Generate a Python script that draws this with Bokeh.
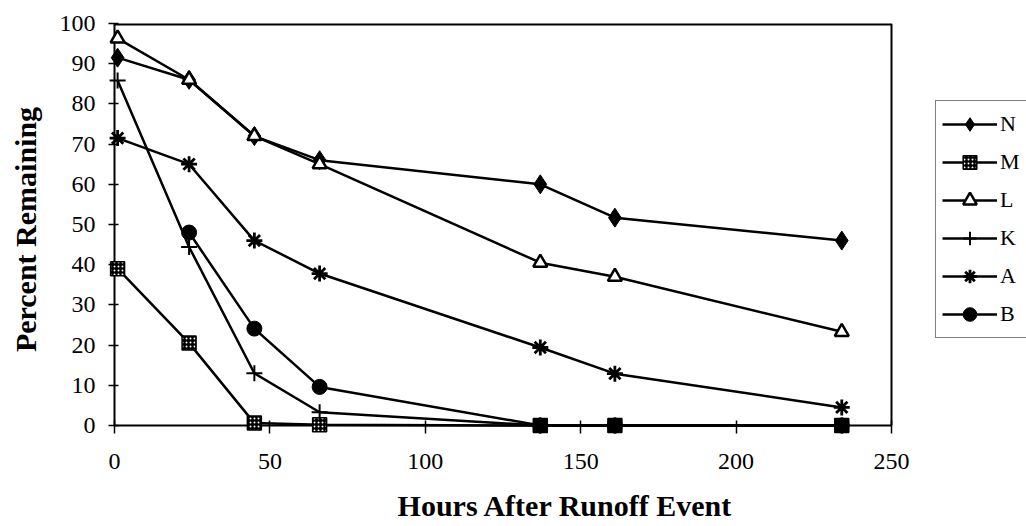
from bokeh.plotting import figure
from bokeh.models import Legend, LegendItem, ColumnDataSource, FixedTicker, Range1d
from bokeh.embed import file_html
from bokeh.resources import INLINE

# ---- data ----
hours = [1, 24, 45, 66, 137, 161, 234]
hours_b = [24, 45, 66, 137, 161, 234]
series_names = ["N", "M", "L", "K", "A", "B"]
n_vals = [91.5, 86.0, 72.0, 66.0, 60.0, 51.7, 46.0]
m_vals = [39.0, 20.5, 0.6, 0.2, 0.0, 0.0, 0.0]
l_vals = [96.3, 86.0, 72.0, 65.0, 40.5, 37.0, 23.3]
k_vals = [85.8, 44.4, 13.0, 3.3, 0.0, 0.0, 0.0]
a_vals = [71.5, 65.0, 46.0, 37.8, 19.4, 12.9, 4.5]
b_vals = [48.0, 24.1, 9.6, 0.0, 0.0, 0.0]
x_ticks = [0, 50, 100, 150, 200, 250]
y_ticks = [0, 10, 20, 30, 40, 50, 60, 70, 80, 90, 100]

FONT = "Liberation Serif"

# layout: plotting box is 777 x 402 px; the frame is a bit larger so that
# markers on the axes are not clipped, and the legend shares the frame
W, H = 1026, 526
AXIS_X, TOP = 114, 23          # pixel position of the y axis line and of the top border
PLOT_W, PLOT_H = 777, 402
PAD_B = 10                     # strip below the zero line
PAD_L = 10                     # strip left of the y axis
x_min, x_max = x_ticks[0], x_ticks[-1]
y_min, y_max = y_ticks[0], y_ticks[-1]
xu = (x_max - x_min) / PLOT_W
yu = (y_max - y_min) / PLOT_H
LEFT = AXIS_X - PAD_L
x_start = x_min - PAD_L * xu
x_end = x_min + (W - AXIS_X) * xu
y_start = y_min - PAD_B * yu
BOTTOM = H - TOP - (PLOT_H + PAD_B)

p = figure(width=W, height=H, output_backend="svg", toolbar_location=None,
           x_range=Range1d(x_start, x_end), y_range=Range1d(y_start, y_max),
           min_border_left=LEFT, min_border_right=0,
           min_border_top=TOP, min_border_bottom=BOTTOM)
p.background_fill_color = "white"
p.border_fill_color = "white"
p.grid.visible = False
p.outline_line_color = None

# axes
p.xaxis.ticker = FixedTicker(ticks=x_ticks)
p.yaxis.ticker = FixedTicker(ticks=y_ticks)
for ax in (p.xaxis, p.yaxis):
    ax.axis_line_color = None
    ax.major_tick_line_color = "black"
    ax.major_tick_line_width = 1.5
    ax.minor_tick_in = 0
    ax.minor_tick_out = 0
    ax.major_label_text_font = FONT
    ax.major_label_text_font_size = "24px"
    ax.major_label_text_color = "black"
    ax.axis_label_text_font = FONT
    ax.axis_label_text_font_style = "bold"
    ax.axis_label_text_font_size = "30px"
    ax.axis_label_text_color = "black"
# ticks cross the axis lines, which lie inside the frame by the pads
p.xaxis.major_tick_in = 5 + PAD_B
p.xaxis.major_tick_out = 8 - PAD_B
p.yaxis.major_tick_in = 4 + PAD_L
p.yaxis.major_tick_out = 6 - PAD_L
p.xaxis.major_label_standoff = 18
p.yaxis.major_label_standoff = 9
p.xaxis.axis_label = "Hours After Runoff Event"
p.yaxis.axis_label = "Percent Remaining"
p.xaxis.axis_label_standoff = 17
p.yaxis.axis_label_standoff = 15

# axis lines and plotting-box border, limited to the axis extent
p.segment(x0=[x_min], y0=[y_min], x1=[x_max], y1=[y_min], line_color="black", line_width=2)
p.segment(x0=[x_min], y0=[y_min], x1=[x_min], y1=[y_max], line_color="black", line_width=2)
p.segment(x0=[x_min], y0=[y_max], x1=[x_max], y1=[y_max], line_color="black", line_width=4)
p.segment(x0=[x_max], y0=[y_min], x1=[x_max], y1=[y_max], line_color="black", line_width=2)

LW = 2.5
items = []

# N
r1 = p.line(hours, n_vals, line_color="black", line_width=LW)
r2 = p.scatter(hours, n_vals, marker="diamond", size=19, fill_color="black", line_color="black")
items.append(LegendItem(label=series_names[0], renderers=[r1, r2]))

# M (stippled squares; where several series coincide at zero they print solid)
m_fill_hatch = ["dot", "dot", "dot", "dot", " ", " ", " "]
m_src = ColumnDataSource(dict(x=hours, y=m_vals, hp=m_fill_hatch))
r1 = p.line(hours, m_vals, line_color="black", line_width=LW)
r2 = p.scatter("x", "y", source=m_src, marker="square", size=14, fill_color="black",
               line_color="black", line_width=1.5, hatch_pattern="hp", hatch_color="white",
               hatch_scale=4, hatch_weight=1.5)
items.append(LegendItem(label=series_names[1], renderers=[r1, r2]))

# L
r1 = p.line(hours, l_vals, line_color="black", line_width=LW)
r2 = p.scatter(hours, l_vals, marker="triangle", size=14, fill_color="white",
               line_color="black", line_width=2.5)
items.append(LegendItem(label=series_names[2], renderers=[r1, r2]))

# K
r1 = p.line(hours, k_vals, line_color="black", line_width=LW)
r2 = p.scatter(hours, k_vals, marker="cross", size=16, line_color="black", line_width=2)
items.append(LegendItem(label=series_names[3], renderers=[r1, r2]))

# A
r1 = p.line(hours, a_vals, line_color="black", line_width=LW)
r2 = p.scatter(hours, a_vals, marker="asterisk", size=16, line_color="black", line_width=2.8)
items.append(LegendItem(label=series_names[4], renderers=[r1, r2]))

# B
r1 = p.line(hours_b, b_vals, line_color="black", line_width=LW)
r2 = p.scatter(hours_b, b_vals, marker="circle", size=15, fill_color="black", line_color="black")
items.append(LegendItem(label=series_names[5], renderers=[r1, r2]))

legend = Legend(items=items, location=(PAD_L + PLOT_W + 44, 87 + PAD_B))
legend.border_line_color = "black"
legend.border_line_width = 1.5
legend.background_fill_color = "white"
legend.background_fill_alpha = 1
legend.padding = 6
legend.spacing = 4
legend.margin = 0
legend.glyph_width = 55
legend.glyph_height = 34
legend.label_height = 34
legend.label_width = 40
legend.label_standoff = 3
legend.label_text_font = FONT
legend.label_text_font_size = "22px"
legend.label_text_color = "black"
legend.label_text_baseline = "middle"
p.add_layout(legend, "center")

open("out.html", "w").write(file_html(p, INLINE))
